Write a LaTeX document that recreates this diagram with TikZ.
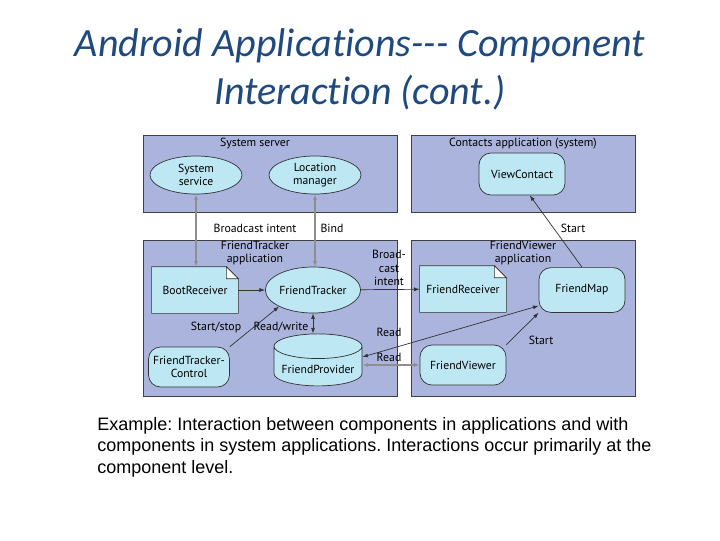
\documentclass[tikz,border=0pt]{standalone}
\usepackage{fontspec}
\setmainfont{PT Sans}
\newfontfamily\titlefont{Carlito}[Ligatures=NoCommon]
\newfontfamily\captionfont{Liberation Sans}
\usetikzlibrary{shapes.geometric, arrows.meta, positioning, calc}
\definecolor{framefill}{HTML}{AAB4DC}
\definecolor{compfill}{HTML}{BEE7F4}
\definecolor{titleblue}{HTML}{1F4A7F}
\definecolor{linegray}{HTML}{8E8E8E}
\pgfdeclarelayer{back}
\pgfdeclarelayer{mid}
\pgfsetlayers{back,mid,main}
\frenchspacing

\begin{document}
\begin{tikzpicture}[x=0.025cm, y=-0.025cm,
  appframe/.style={draw=black!75, fill=framefill, line width=0.6pt},
  comp/.style={draw=black!80, fill=compfill, font=\fontsize{8.3}{9.5}\selectfont, align=center, line width=0.5pt},
  svc/.style={comp, ellipse, minimum width=2.3cm, minimum height=0.95cm, inner sep=0pt},
  act/.style={comp, rectangle, rounded corners=0.3cm, minimum width=2.15cm, minimum height=1.05cm},
  recv/.style={comp, rectangle, draw=none, fill=none, minimum width=2.15cm, minimum height=1.15cm},
  docedge/.style={draw=black!80, fill=compfill, line width=0.5pt},
  store/.style={comp, cylinder, shape border rotate=90, aspect=0.3, minimum width=2.2cm, minimum height=1.3cm},
  lbl/.style={font=\fontsize{8.4}{9.5}\selectfont, align=center, inner sep=1pt},
  link/.style={-{Latex[length=1.4mm,width=1mm]}, draw=black!80, line width=0.5pt},
  twoway/.style={{Latex[length=1.4mm,width=1mm]}-{Latex[length=1.4mm,width=1mm]}, draw=black!80, line width=0.5pt},
  greylink/.style={twoway, draw=linegray, line width=0.9pt}
]
\useasboundingbox (0,0) rectangle (720,540);

% application frames
\begin{pgfonlayer}{back}
\fill[white] (0,0) rectangle (720,540);
\draw[appframe] (143,135) rectangle (397,212);
\draw[appframe] (411,135) rectangle (635,212);
\draw[appframe] (143,240) rectangle (397,396);
\draw[appframe] (411,240) rectangle (635,396);
\end{pgfonlayer}

% title and caption
\node[font=\titlefont\itshape\fontsize{28.5}{34}\selectfont, text=titleblue, align=center] (title) at (360,69) {Android Applications--- Component\\Interaction (cont.)};
\node[font=\captionfont\fontsize{12.8}{15.2}\selectfont, align=left, anchor=north west, inner sep=0pt] (caption) at (97,417) {Example: Interaction between components in applications and with\\components in system applications. Interactions occur primarily at the\\component level.};

% frame labels
\node[lbl] (syslbl) at (255,144) {System server};
\node[lbl] (contlbl) at (523,144) {Contacts application (system)};
\node[lbl] (trklbl) at (255,253) {FriendTracker\\application};
\node[lbl] (viewlbl) at (523,253) {FriendViewer\\application};

% components
\node[svc] (ss) at (196,175) {System\\service};
\node[svc] (lm) at (315,175) {Location\\manager};
\node[act] (vc) at (522,174) {ViewContact};
\node[recv] (br) at (195,290) {BootReceiver};
\node[svc, minimum width=2.15cm, minimum height=1.15cm] (ft) at (313,290) {FriendTracker};
\node[recv] (fr) at (463,289) {FriendReceiver};
\node[act, minimum height=1.12cm] (fm) at (582,290) {FriendMap};
\node[act, minimum width=1.85cm, minimum height=1cm] (ftc) at (189,367) {FriendTracker-\\Control};
\node[store] (fp) at (318,369) {FriendProvider};
\node[act, minimum height=1cm] (fv) at (463,365) {FriendViewer};

% folded-corner outlines of the receivers
\begin{pgfonlayer}{mid}
\foreach \r in {br, fr} {
  \draw[docedge] (\r.south west) -- (\r.south east) -- ($(\r.north east)+(0,12)$)
    -- ($(\r.north east)+(-12,0)$) -- (\r.north west) -- cycle;
  \draw[docedge, fill=white] ($(\r.north east)+(-12,0)$) -- ($(\r.north east)+(-12,12)$)
    -- ($(\r.north east)+(0,12)$) -- cycle;
}
\end{pgfonlayer}

% connectors
\draw[greylink] (ss.south) -- (ss.south |- br.north);
\draw[greylink] (lm.south) -- (lm.south |- ft.north);
\draw[link] (br) -- (ft);
\draw[link] (ft) -- (fr);
\draw[link] (ftc.north east) -- (ft.south west);
\draw[twoway] (ft.south) -- (ft.south |- fp.north);
\draw[twoway] (fm.200) -- ($(fp.east)+(0,-12)$);
\draw[greylink] (fv.west) -- (fv.west -| fp.east);
\draw[link] (fv.north east) -- (fm.south west);
\draw[link] (fm.north) -- (vc.290);

% connector labels
\node[lbl] (bcast) at (255,228) {Broadcast intent};
\node[lbl] (bind) at (332,228) {Bind};
\node[lbl] (start1) at (573,228) {Start};
\node[lbl] (bcast2) at (389,268) {Broad-\\cast\\intent};
\node[lbl] (stst) at (216,327) {Start/stop};
\node[lbl, anchor=east] (rdwr) at (310,327) {Read/write};
\node[lbl] (read1) at (389,332) {Read};
\node[lbl] (read2) at (389,357) {Read};
\node[lbl] (start2) at (541,340) {Start};
\end{tikzpicture}
\end{document}
